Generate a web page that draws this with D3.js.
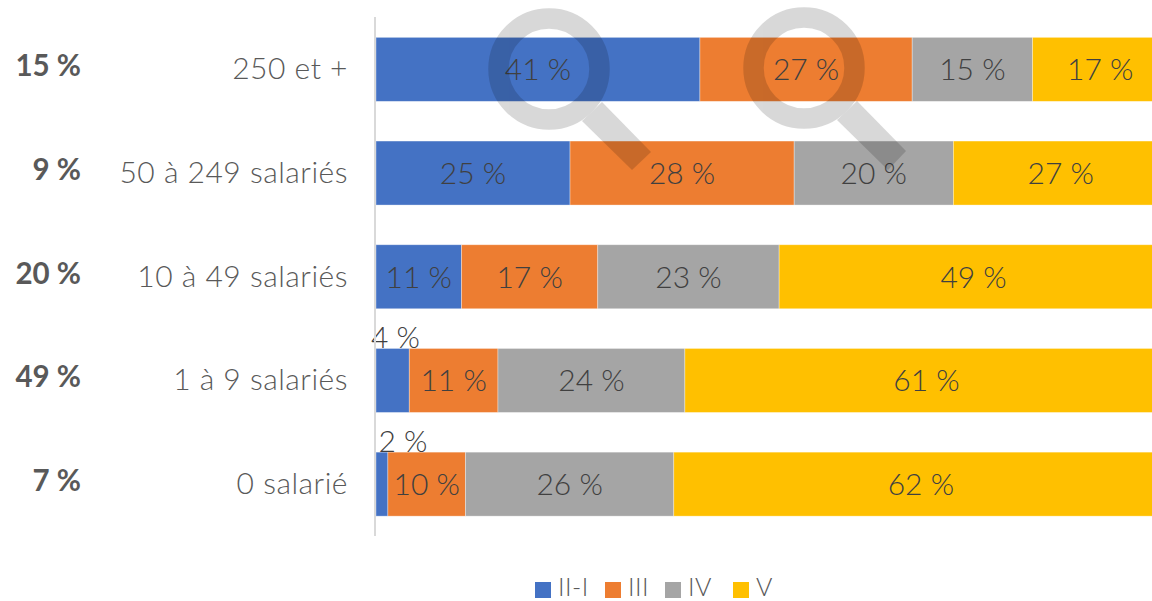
<!DOCTYPE html>
<html><head><meta charset="utf-8">
<script src="https://cdn.jsdelivr.net/npm/d3@7/dist/d3.min.js"></script>
<style>html,body{margin:0;padding:0;background:#fff;overflow:hidden}svg{display:block}text{font-family:Lato,"Open Sans",sans-serif;font-weight:300}</style>
</head><body><svg id="c" width="1152" height="601"></svg>
<script>
const categories = ["250 et +", "50 à 249 salariés", "10 à 49 salariés", "1 à 9 salariés", "0 salarié"];
const shares = ["15 %", "9 %", "20 %", "49 %", "7 %"];
const seriesNames = ["II-I", "III", "IV", "V"];
const seriesColors = ["#4472c4", "#ed7d31", "#a5a5a5", "#ffc000"];
const valuesII = [40.9, 24.5, 10.8, 4.2, 1.5];
const valuesIII = [26.8, 28.3, 17.2, 11.2, 9.8];
const valuesIV = [15.2, 20.1, 22.9, 23.6, 26.3];
const valuesV = [17.1, 27.1, 49.1, 61.0, 62.4];
const allSeries = [valuesII, valuesIII, valuesIV, valuesV];

const svg = d3.select("#c");
const x = d3.scaleLinear().domain([0, 100]).range([376, 1168]);
const y = d3.scaleBand().domain(categories).range([17.5, 536]).paddingInner(0.38).paddingOuter(0.19);
const bh = 64;

categories.forEach((c, i) => {
  let acc = 0;
  const yc = y(c) + y.bandwidth() / 2;
  allSeries.forEach((s, k) => {
    const v = s[i], x0 = x(acc), x1 = x(acc + v);
    acc += v;
    svg.append("rect").attr("x", x0).attr("y", yc - bh / 2).attr("width", x1 - x0).attr("height", bh)
      .attr("fill", seriesColors[k]).attr("stroke", "#fff").attr("stroke-opacity", 0.45).attr("stroke-width", 0.75);
  });
  acc = 0;
  allSeries.forEach((s, k) => {
    const v = s[i], x0 = x(acc), x1 = x(acc + v);
    acc += v;
    const small = v < 5;
    svg.append("text").attr("x", small ? (v < 2 ? 403 : 395.5) : (x0 + x1) / 2)
      .attr("y", small ? yc - bh / 2 : yc + 11)
      .attr("text-anchor", "middle").attr("font-size", 30).attr("fill", "#404040")
      .text(Math.round(v) + " %");
  });
  svg.append("text").attr("x", 348).attr("y", yc + 10).attr("text-anchor", "end").attr("font-size", 30)
    .attr("letter-spacing", 0.5).attr("fill", "#595959").text(c);
  svg.append("text").attr("x", 81).attr("y", yc + 7).attr("text-anchor", "end").attr("font-size", 29.5)
    .attr("fill", "#595959").style("font-weight", 700).text(shares[i]);
});

svg.append("line").attr("x1", 375).attr("x2", 375).attr("y1", 17).attr("y2", 536).attr("stroke", "#d9d9d9").attr("stroke-width", 2);

const legendSquareX = [535, 605, 665, 733];
seriesNames.forEach((n, k) => {
  svg.append("rect").attr("x", legendSquareX[k]).attr("y", 582).attr("width", 16).attr("height", 16).attr("fill", seriesColors[k]);
  svg.append("text").attr("x", legendSquareX[k] + 23).attr("y", 595.5).attr("font-size", 25).attr("letter-spacing", 0.5).attr("fill", "#595959").text(n);
});

[[549, 69, 651, 152, 632, 170], [804, 68, 906, 151, 888, 170]].forEach(([cx, cy, ax, ay, bx, by]) => {
  const g = svg.append("g").attr("opacity", 0.15);
  g.append("circle").attr("cx", cx).attr("cy", cy).attr("r", 50.5).attr("fill", "none").attr("stroke", "#000").attr("stroke-width", 20.5);
  g.append("path").attr("d", d3.line()([[cx + 53, cy + 33], [ax, ay], [bx, by], [cx + 33, cy + 52]])).attr("fill", "#000");
});
</script></body></html>
